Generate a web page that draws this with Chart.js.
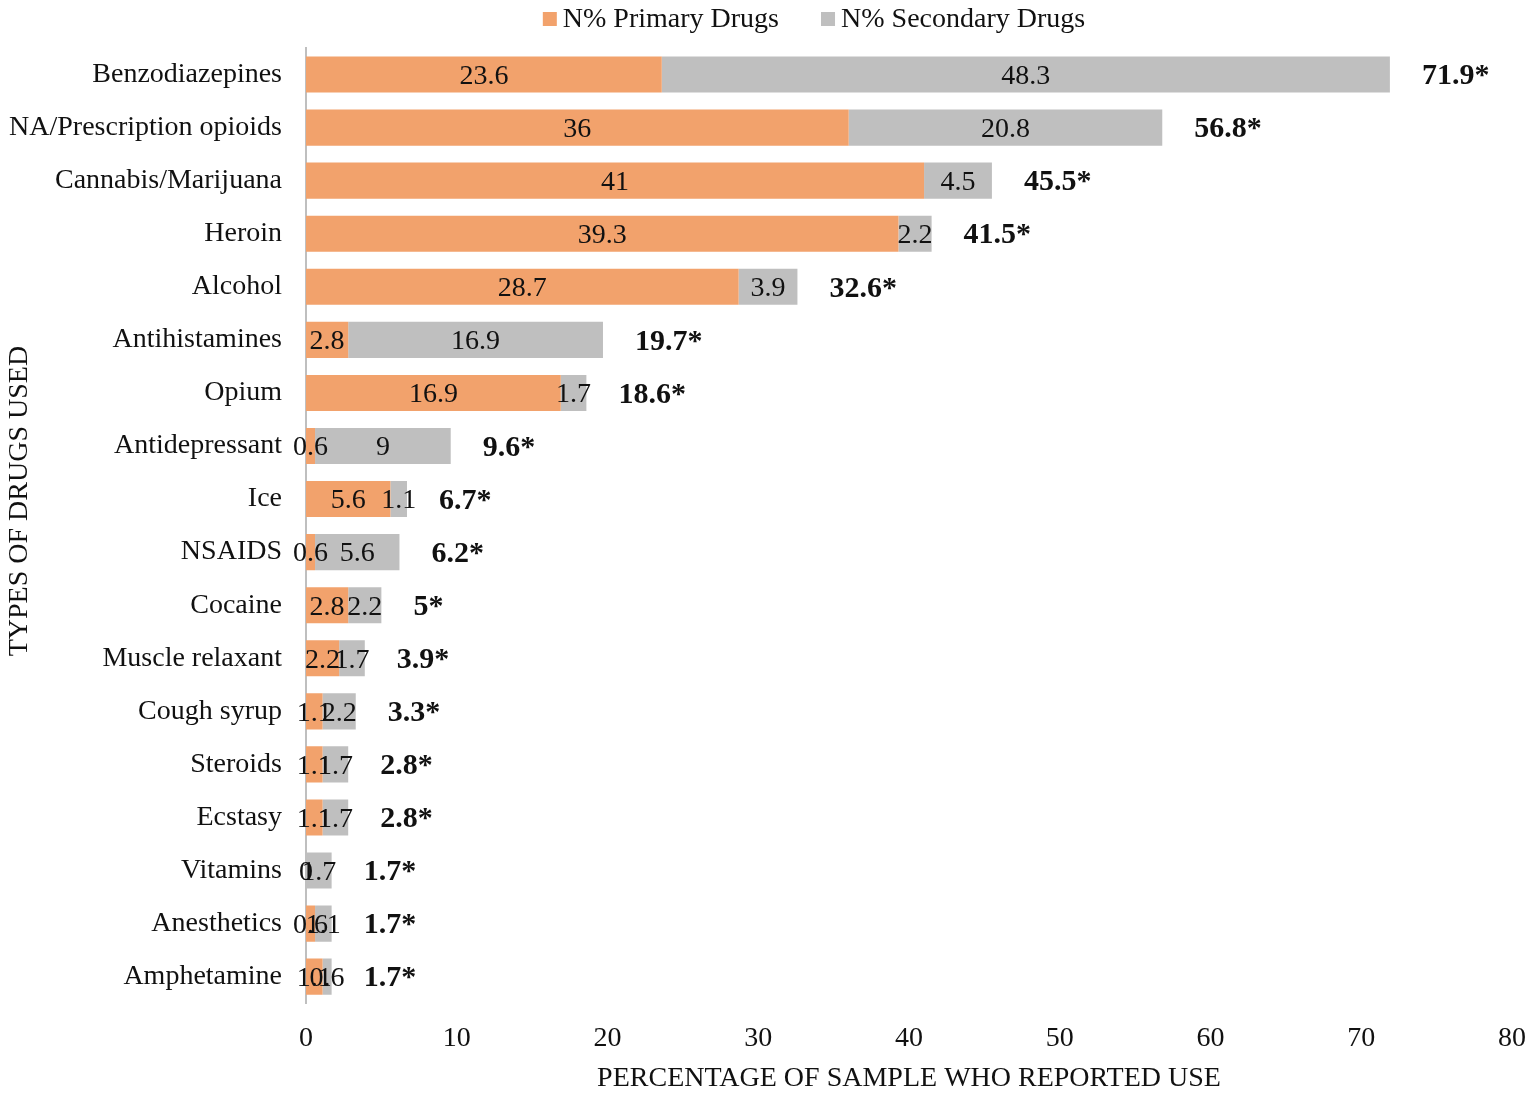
<!DOCTYPE html>
<html>
<head>
<meta charset="utf-8">
<script src="https://cdn.jsdelivr.net/npm/chart.js"></script>
<style>
  html, body { margin: 0; padding: 0; background: #fff; }
  #wrap { width: 1535px; height: 1095px; position: relative; }
</style>
</head>
<body>
<div id="wrap"><canvas id="drugChart"></canvas></div>
<script>
// Drug use data (percent of sample)
const categories = ['Benzodiazepines', 'NA/Prescription opioids', 'Cannabis/Marijuana', 'Heroin', 'Alcohol',
  'Antihistamines', 'Opium', 'Antidepressant', 'Ice', 'NSAIDS', 'Cocaine', 'Muscle relaxant',
  'Cough syrup', 'Steroids', 'Ecstasy', 'Vitamins', 'Anesthetics', 'Amphetamine'];
const primaryDrugs = [23.6, 36, 41, 39.3, 28.7, 2.8, 16.9, 0.6, 5.6, 0.6, 2.8, 2.2, 1.1, 1.1, 1.1, 0, 0.6, 1.1];
const secondaryDrugs = [48.3, 20.8, 4.5, 2.2, 3.9, 16.9, 1.7, 9, 1.1, 5.6, 2.2, 1.7, 2.2, 1.7, 1.7, 1.7, 1.1, 0.6];
const totalLabels = ['71.9*', '56.8*', '45.5*', '41.5*', '32.6*', '19.7*', '18.6*', '9.6*', '6.7*', '6.2*',
  '5*', '3.9*', '3.3*', '2.8*', '2.8*', '1.7*', '1.7*', '1.7*'];
const totals = [71.9, 56.8, 45.5, 41.5, 32.6, 19.7, 18.6, 9.6, 6.7, 6.2, 5, 3.9, 3.3, 2.8, 2.8, 1.7, 1.7, 1.7];
const xTicks = [0, 10, 20, 30, 40, 50, 60, 70, 80];

const FONT = "'Liberation Serif', 'Times New Roman', serif";

// labels inside each bar segment + bold totals at the end
const barLabels = {
    id: 'barLabels',
    afterDatasetsDraw(chart) {
        const ctx = chart.ctx;
        ctx.save();
        ctx.font = '28px ' + FONT;
        ctx.fillStyle = '#111';
        ctx.textAlign = 'center';
        ctx.textBaseline = 'middle';
        chart.data.datasets.forEach((ds, di) => {
            const meta = chart.getDatasetMeta(di);
            meta.data.forEach((bar, i) => {
                const cx = (bar.x + bar.base) / 2;
                ctx.fillText(String(ds.data[i]), cx, bar.y + 2);
            });
        });
        // totals
        const xs = chart.scales.x;
        const meta0 = chart.getDatasetMeta(0);
        ctx.font = 'bold 30px ' + FONT;
        ctx.textAlign = 'left';
        totals.forEach((t, i) => {
            const x = xs.getPixelForValue(t) + 32;
            ctx.fillText(totalLabels[i], x, meta0.data[i].y + 2);
        });
        ctx.restore();
    }
};

// legend drawn like the Excel one: small squares, tight gap to text
const topLegend = {
    id: 'topLegend',
    afterDraw(chart) {
        const ctx = chart.ctx;
        ctx.save();
        ctx.font = '28px ' + FONT;
        ctx.textBaseline = 'middle';
        ctx.textAlign = 'left';
        const box = 14, gapText = 6, gapItem = 42;
        const items = chart.data.datasets.map(ds => ({
            text: ds.label, color: ds.backgroundColor, w: ctx.measureText(ds.label).width
        }));
        let total = 0;
        items.forEach((it, i) => { total += box + gapText + it.w + (i ? gapItem : 0); });
        let x = 814 - total / 2;
        const y = 19;
        items.forEach(it => {
            ctx.fillStyle = it.color;
            ctx.fillRect(x, y - box / 2, box, box);
            x += box + gapText;
            ctx.fillStyle = '#111';
            ctx.fillText(it.text, x, y + 1);
            x += it.w + gapItem;
        });
        ctx.restore();
    }
};

const ctx = document.getElementById('drugChart').getContext('2d');
const chart = new Chart(ctx, {
    type: 'bar',
    data: {
        labels: categories,
        datasets: [
            {
                label: 'N% Primary Drugs',
                data: primaryDrugs,
                backgroundColor: '#F2A26C',
                barPercentage: 0.68,
                categoryPercentage: 1
            },
            {
                label: 'N% Secondary Drugs',
                data: secondaryDrugs,
                backgroundColor: '#BFBFBF',
                barPercentage: 0.68,
                categoryPercentage: 1
            }
        ]
    },
    options: {
        indexAxis: 'y',
        responsive: true,
        maintainAspectRatio: false,
        animation: false,
        layout: {
            padding: { top: 48, right: 0, bottom: 0, left: 0 }
        },
        plugins: {
            legend: { display: false },
            tooltip: { enabled: false }
        },
        scales: {
            x: {
                stacked: true,
                min: 0,
                max: 80,
                afterBuildTicks: function(scale) {
                    scale.ticks = xTicks.map(v => ({ value: v }));
                },
                grid: { display: false, drawTicks: false },
                border: { display: false },
                ticks: {
                    color: '#111',
                    padding: 9,
                    font: { family: FONT, size: 28, lineHeight: 1.9 }
                },
                title: {
                    display: true,
                    text: 'PERCENTAGE OF SAMPLE WHO REPORTED USE',
                    color: '#111',
                    font: { family: FONT, size: 28 },
                    padding: { top: -13, bottom: 0 }
                }
            },
            y: {
                stacked: true,
                afterFit: function(scale) {
                    scale.width = 306;
                },
                grid: { display: false, drawTicks: false },
                border: { display: true, color: '#BFBFBF', width: 2 },
                ticks: {
                    color: '#111',
                    padding: 24,
                    autoSkip: false,
                    font: { family: FONT, size: 28 }
                },
                title: {
                    display: true,
                    text: '\u00A0\u00A0\u00A0\u00A0\u00A0\u00A0\u00A0TYPES OF DRUGS USED',
                    color: '#111',
                    font: { family: FONT, size: 28 },
                    padding: { top: 3, bottom: 0 }
                }
            }
        }
    },
    plugins: [barLabels, topLegend]
});
</script>
</body>
</html>
